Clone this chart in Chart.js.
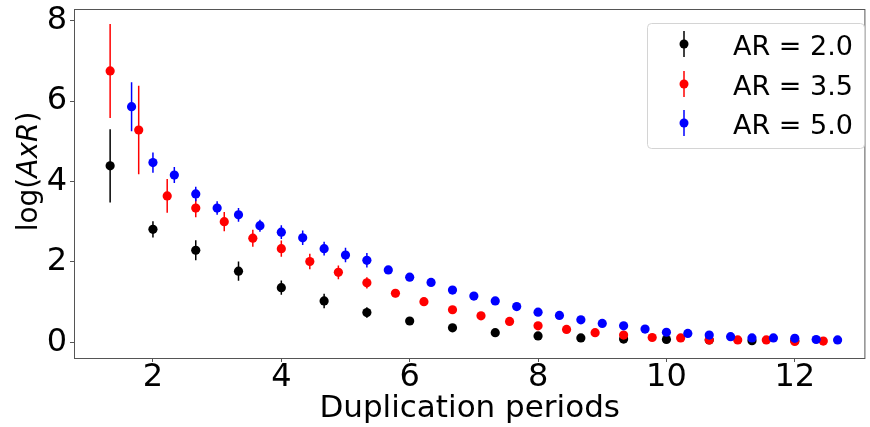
<!DOCTYPE html>
<html>
<head>
<meta charset="utf-8">
<script src="https://cdn.jsdelivr.net/npm/chart.js@4"></script>
<style>
  html, body { margin: 0; padding: 0; background: #fff; }
</style>
</head>
<body>
<canvas id="chart" width="870" height="427"></canvas>
<script>
// ----------------------------------------------
// Data
// ----------------------------------------------
const LABELS = ["AR = 2.0", "AR = 3.5", "AR = 5.0"];
const COLORS = ["#000000", "#ff0000", "#0000ff"];
const X_TICKS = [2, 4, 6, 8, 10, 12];
const Y_TICKS = [0, 2, 4, 6, 8];

const periodsAR2 = [1.333, 2.0, 2.667, 3.333, 4.0, 4.667, 5.333, 6.0, 6.667, 7.333, 8.0, 8.667, 9.333, 10.0, 10.667, 11.333, 12.0];
const valuesAR2 = [4.39, 2.81, 2.29, 1.77, 1.36, 1.03, 0.74, 0.53, 0.36, 0.24, 0.16, 0.11, 0.08, 0.07, 0.06, 0.04, 0.04];
const errorsAR2 = [0.91, 0.2, 0.25, 0.24, 0.18, 0.18, 0.13, 0.1, 0.08, 0.06, 0.05, 0.04, 0.03, 0.03, 0.02, 0.02, 0.02];

const periodsAR35 = [1.333, 1.778, 2.222, 2.667, 3.111, 3.556, 4.0, 4.444, 4.889, 5.333, 5.778, 6.222, 6.667, 7.111, 7.556, 8.0, 8.444, 8.889, 9.333, 9.778, 10.222, 10.667, 11.111, 11.556, 12.0, 12.444];
const valuesAR35 = [6.75, 5.28, 3.64, 3.34, 3.0, 2.59, 2.33, 2.01, 1.74, 1.48, 1.22, 1.01, 0.81, 0.66, 0.52, 0.41, 0.32, 0.24, 0.18, 0.12, 0.11, 0.06, 0.06, 0.06, 0.02, 0.03];
const errorsAR35 = [1.17, 1.1, 0.42, 0.23, 0.24, 0.21, 0.2, 0.19, 0.17, 0.14, 0.1, 0.1, 0.08, 0.07, 0.06, 0.05, 0.04, 0.04, 0.03, 0.03, 0.02, 0.02, 0.02, 0.02, 0.02, 0.02];

const periodsAR5 = [1.667, 2.0, 2.333, 2.667, 3.0, 3.333, 3.667, 4.0, 4.333, 4.667, 5.0, 5.333, 5.667, 6.0, 6.333, 6.667, 7.0, 7.333, 7.667, 8.0, 8.333, 8.667, 9.0, 9.333, 9.667, 10.0, 10.333, 10.667, 11.0, 11.333, 11.667, 12.0, 12.333, 12.667];
const valuesAR5 = [5.86, 4.47, 4.16, 3.69, 3.34, 3.17, 2.90, 2.74, 2.60, 2.33, 2.17, 2.04, 1.80, 1.62, 1.49, 1.30, 1.15, 1.03, 0.89, 0.75, 0.67, 0.56, 0.47, 0.41, 0.33, 0.25, 0.22, 0.18, 0.14, 0.11, 0.11, 0.10, 0.07, 0.06];
const errorsAR5 = [0.61, 0.25, 0.2, 0.18, 0.17, 0.17, 0.15, 0.17, 0.18, 0.17, 0.18, 0.18, 0.1, 0.09, 0.08, 0.07, 0.06, 0.06, 0.05, 0.05, 0.04, 0.04, 0.03, 0.03, 0.03, 0.03, 0.02, 0.02, 0.02, 0.02, 0.02, 0.02, 0.02, 0.02];

const SERIES = [
	[periodsAR2, valuesAR2, errorsAR2],
	[periodsAR35, valuesAR35, errorsAR35],
	[periodsAR5, valuesAR5, errorsAR5],
];

const FONT = "'DejaVu Sans', sans-serif";

// ----------------------------------------------
// Plugins
// ----------------------------------------------
// vertical error bars, drawn just before each dataset's markers
const errorBars = {
	id: "errorBars",
	beforeDatasetDraw(chart, args) {
		const ds = chart.data.datasets[args.index];
		const yScale = chart.scales.y;
		const ctx = chart.ctx;
		ctx.save();
		ctx.strokeStyle = ds.backgroundColor;
		ctx.lineWidth = 1.5;
		ctx.beginPath();
		args.meta.data.forEach((pt, i) => {
			const v = ds.data[i].y;
			const e = ds.errors[i];
			ctx.moveTo(pt.x, yScale.getPixelForValue(v + e));
			ctx.lineTo(pt.x, yScale.getPixelForValue(v - e));
		});
		ctx.stroke();
		ctx.restore();
	},
};

// frame round the plot, y title with italic part, legend box
const decorations = {
	id: "decorations",
	afterDatasetsDraw(chart) {
		const { ctx, chartArea: a } = chart;
		ctx.save();
		ctx.strokeStyle = "#555";
		ctx.lineWidth = 1;
		ctx.strokeRect(a.left + 0.5, a.top + 0.5, a.right - a.left - 1, a.bottom - a.top);
		ctx.restore();
	},
	afterDraw(chart) {
		const { ctx, chartArea: a } = chart;

		// y axis title: log(AxR)
		const parts = [
			["log(", "normal 28px " + FONT],
			["AxR", "italic 28px " + FONT],
			[")", "normal 28px " + FONT],
		];
		ctx.save();
		let total = 0;
		parts.forEach(([t, f]) => { ctx.font = f; total += ctx.measureText(t).width; });
		ctx.translate(37, (a.top + a.bottom) / 2 - 12);
		ctx.rotate(-Math.PI / 2);
		ctx.fillStyle = "#000";
		ctx.textBaseline = "alphabetic";
		let x = -total / 2;
		parts.forEach(([t, f]) => {
			ctx.font = f;
			ctx.fillText(t, x, 0);
			x += ctx.measureText(t).width;
		});
		ctx.restore();

		// legend
		const box = { x: 647.5, y: 23.5, w: 217, h: 125, r: 4 };
		ctx.save();
		ctx.beginPath();
		ctx.roundRect(box.x, box.y, box.w, box.h, box.r);
		ctx.fillStyle = "rgba(255,255,255,0.8)";
		ctx.fill();
		ctx.strokeStyle = "#d4d4d4";
		ctx.lineWidth = 1;
		ctx.stroke();
		const rows = [44, 84, 123];
		chart.data.datasets.forEach((ds, i) => {
			const cy = rows[i];
			ctx.strokeStyle = ds.backgroundColor;
			ctx.lineWidth = 1.5;
			ctx.beginPath();
			ctx.moveTo(684, cy - 13);
			ctx.lineTo(684, cy + 13);
			ctx.stroke();
			ctx.fillStyle = ds.backgroundColor;
			ctx.beginPath();
			ctx.arc(684, cy, 4.5, 0, Math.PI * 2);
			ctx.fill();
			ctx.fillStyle = "#000";
			ctx.font = "27px " + FONT;
			ctx.textBaseline = "alphabetic";
			ctx.fillText(ds.label, 733, cy + 11);
		});
		ctx.restore();
	},
};

// ----------------------------------------------
// Chart
// ----------------------------------------------
const CHART_DATA = {
	datasets: SERIES.map(([xs, ys, es], i) => ({
		label: LABELS[i],
		data: xs.map((x, j) => ({ x: x, y: ys[j] })),
		errors: es,
		backgroundColor: COLORS[i],
		borderColor: COLORS[i],
		pointRadius: 4.6,
		pointHoverRadius: 4.6,
		borderWidth: 0,
		showLine: false,
		order: 3 - i,
	})),
};

const tickGrid = {
	display: true,
	drawOnChartArea: false,
	drawTicks: true,
	tickLength: 4,
	color: "#555",
};

const CHART_CONFIG = {
	type: "scatter",
	data: CHART_DATA,
	options: {
		responsive: false,
		animation: false,
		devicePixelRatio: 1,
		layout: { padding: { top: 9, right: 1, left: 0, bottom: 0 } },
		plugins: {
			legend: { display: false },
			title: { display: false },
			tooltip: { enabled: false },
		},
		scales: {
			x: {
				type: "linear",
				min: 0.77,
				max: 13.1,
				border: { display: false },
				grid: tickGrid,
				ticks: {
					stepSize: 2,
					includeBounds: false,
					autoSkip: false,
					maxRotation: 0,
					padding: -4,
					color: "#000",
					font: { family: FONT, size: 32 },
					callback: (v) => (X_TICKS.includes(v) ? String(v) : ""),
				},
				title: {
					display: true,
					text: "Duplication periods",
					color: "#000",
					font: { family: FONT, size: 31 },
					padding: { top: 0, bottom: -1 },
				},
				afterFit(scale) {
					scale.height = 69;
					scale.paddingLeft = 0;
					scale.paddingRight = 0;
				},
			},
			y: {
				type: "linear",
				min: -0.39,
				max: 8.29,
				border: { display: false },
				grid: tickGrid,
				ticks: {
					stepSize: 2,
					includeBounds: false,
					autoSkip: false,
					padding: 3,
					color: "#000",
					font: { family: FONT, size: 32 },
					callback: (v) => (Y_TICKS.includes(v) ? String(v) : ""),
				},
				afterFit(scale) {
					scale.width = 74;
					scale.paddingTop = 0;
					scale.paddingBottom = 0;
				},
			},
		},
	},
	plugins: [errorBars, decorations],
};

new Chart(document.getElementById("chart"), CHART_CONFIG);
</script>
</body>
</html>
